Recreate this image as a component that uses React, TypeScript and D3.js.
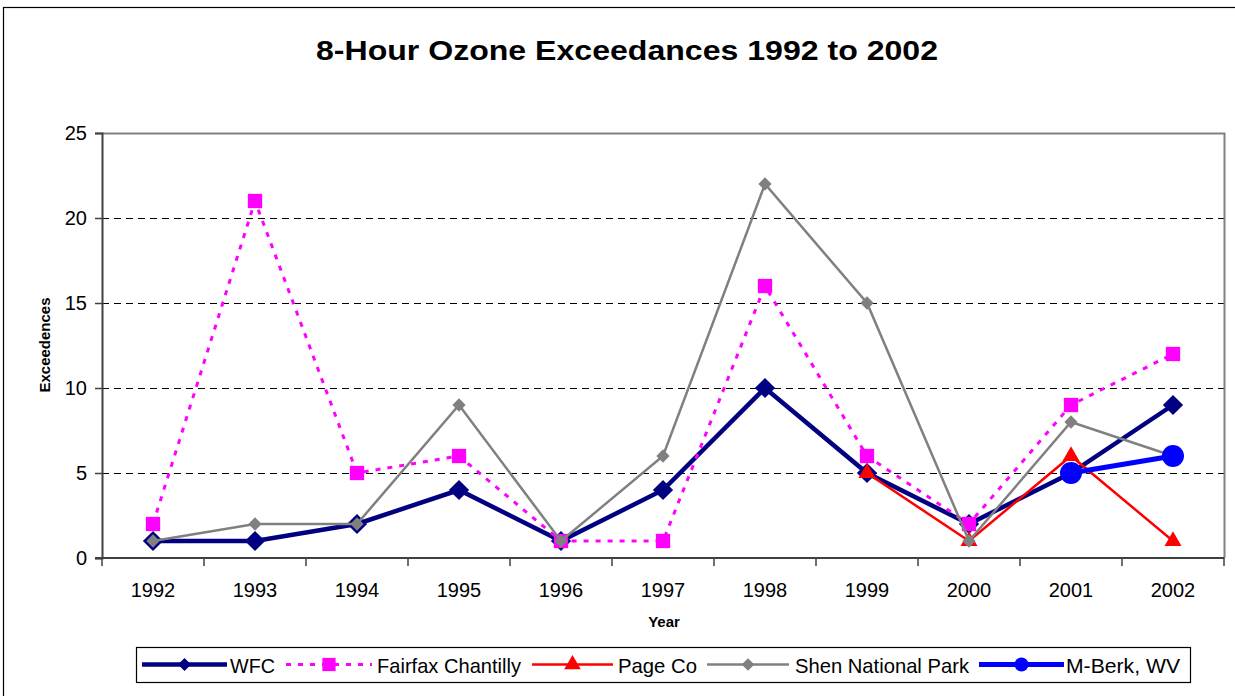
import React, { useEffect, useRef } from 'react'
import * as d3 from 'd3'

const years = ['1992', '1993', '1994', '1995', '1996', '1997', '1998', '1999', '2000', '2001', '2002']
const wfc = [1, 1, 2, 4, 1, 4, 10, 5, 2, 5, 9]
const fairfax = [2, 21, 5, 6, 1, 1, 16, 6, 2, 9, 12]
const pageCo = [null, null, null, null, null, null, null, 5, 1, 6, 1]
const shen = [1, 2, 2, 9, 1, 6, 22, 15, 1, 8, 6]
const mBerk = [null, null, null, null, null, null, null, null, null, 5, 6]
const yTicks = [0, 5, 10, 15, 20, 25]

type Series = {
    name: string
    values: (number | null)[]
    color: string
    width: number
    dash: string | null
    marker: 'diamond' | 'square' | 'triangle' | 'circle'
    size: number
    legendSize: number
    legendX: number
    legendEnd: number
    textX: number
    textLen: number
}

const series: Series[] = [
    { name: 'WFC', values: wfc, color: '#000080', width: 4.5, dash: null, marker: 'diamond', size: 205, legendSize: 85, legendX: 142, legendEnd: 227, textX: 230, textLen: 45 },
    { name: 'Fairfax Chantilly', values: fairfax, color: '#FF00FF', width: 3, dash: '5,7', marker: 'square', size: 205, legendSize: 175, legendX: 286, legendEnd: 372, textX: 377, textLen: 144 },
    { name: 'Page Co', values: pageCo, color: '#FF0000', width: 2.5, dash: null, marker: 'triangle', size: 125, legendSize: 120, legendX: 532, legendEnd: 613, textX: 618, textLen: 79 },
    { name: 'Shen National Park', values: shen, color: '#808080', width: 2.5, dash: null, marker: 'diamond', size: 88, legendSize: 80, legendX: 707, legendEnd: 789, textX: 795, textLen: 174 },
    { name: 'M-Berk, WV', values: mBerk, color: '#0000FF', width: 5, dash: null, marker: 'circle', size: 380, legendSize: 155, legendX: 979, legendEnd: 1064, textX: 1066, textLen: 114 },
]

export default function App() {
    const ref = useRef<HTMLDivElement>(null)

    useEffect(() => {
        document.body.style.margin = '0'
        const container = d3.select(ref.current)
        container.selectAll('*').remove()

        const W = 1235, H = 696
        const left = 102, right = 1224, top = 133, bottom = 558
        const font = 'Liberation Sans, Arial, sans-serif'

        const svg = container.append('svg')
            .attr('width', W)
            .attr('height', H)
            .style('display', 'block')
            .style('font-family', font)

        svg.append('rect').attr('width', W).attr('height', H).attr('fill', 'white')

        // outer chart frame
        svg.append('rect')
            .attr('x', 3.5).attr('y', 7.5)
            .attr('width', W + 10).attr('height', H + 10)
            .attr('fill', 'none').attr('stroke', '#000').attr('stroke-width', 1.2)

        svg.append('text')
            .attr('x', 316).attr('y', 60)
            .attr('textLength', 622).attr('lengthAdjust', 'spacingAndGlyphs')
            .style('font-size', '27px').style('font-weight', 'bold')
            .text('8-Hour Ozone Exceedances 1992 to 2002')

        const x = d3.scaleBand().domain(years).range([left, right])
        const y = d3.scaleLinear().domain([0, 25]).range([bottom, top])

        // gridlines
        svg.append('g').selectAll('line')
            .data(yTicks.filter(t => t > 0 && t < 25))
            .join('line')
            .attr('x1', left).attr('x2', right)
            .attr('y1', d => y(d) + 0.5).attr('y2', d => y(d) + 0.5)
            .attr('stroke', '#000').attr('stroke-width', 1)
            .attr('stroke-dasharray', '7,5')

        // plot border (top / right)
        svg.append('path')
            .attr('d', `M${left},${top + 0.5}H${right + 0.5}V${bottom}`)
            .attr('fill', 'none').attr('stroke', '#808080').attr('stroke-width', 2)

        // y axis
        const yAxis = svg.append('g')
            .attr('transform', `translate(${left},0)`)
            .call(d3.axisLeft(y).tickValues(yTicks).tickSize(7).tickPadding(8))
        yAxis.select('.domain').attr('stroke', '#404040').attr('stroke-width', 2)
        yAxis.selectAll('.tick line').attr('stroke', '#404040').attr('stroke-width', 1.5)
        yAxis.selectAll('.tick text').style('font-size', '20px').style('font-family', font).attr('fill', '#000')

        // x axis
        const xAxis = svg.append('g').attr('transform', `translate(0,${bottom})`)
        xAxis.append('line')
            .attr('x1', left - 7).attr('x2', right)
            .attr('stroke', '#404040').attr('stroke-width', 2)
        const boundaries = years.map(d => x(d) as number).concat([right])
        xAxis.selectAll('line.tk')
            .data(boundaries)
            .join('line')
            .attr('class', 'tk')
            .attr('x1', d => d).attr('x2', d => d)
            .attr('y1', 0).attr('y2', 8)
            .attr('stroke', '#404040').attr('stroke-width', 1.5)
        xAxis.selectAll('text')
            .data(years)
            .join('text')
            .attr('x', d => (x(d) as number) + x.bandwidth() / 2)
            .attr('y', 39)
            .attr('text-anchor', 'middle')
            .style('font-size', '20px')
            .text(d => d)

        svg.append('text')
            .attr('x', 664).attr('y', 627)
            .attr('text-anchor', 'middle')
            .style('font-size', '15px').style('font-weight', 'bold')
            .text('Year')

        svg.append('text')
            .attr('transform', 'translate(50,345) rotate(-90)')
            .attr('text-anchor', 'middle')
            .style('font-size', '15px').style('font-weight', 'bold')
            .text('Exceedences')

        const symbolOf = (m: Series['marker']) =>
            m === 'triangle' ? d3.symbolTriangle : m === 'circle' ? d3.symbolCircle : d3.symbolSquare
        const markerPath = (s: Series, size: number) => d3.symbol().type(symbolOf(s.marker)).size(size)()
        const markerRot = (s: Series) => s.marker === 'diamond' ? ' rotate(45)' : ''

        const cx = (i: number) => (x(years[i]) as number) + x.bandwidth() / 2

        series.forEach(s => {
            const pts = s.values.map((v, i) => ({ v, i })).filter(p => p.v !== null) as { v: number, i: number }[]
            const line = d3.line<{ v: number, i: number }>().x(p => cx(p.i)).y(p => y(p.v))
            const g = svg.append('g')
            g.append('path')
                .attr('d', line(pts))
                .attr('fill', 'none')
                .attr('stroke', s.color)
                .attr('stroke-width', s.width)
                .attr('stroke-dasharray', s.dash)
                .attr('stroke-linejoin', 'miter')
            g.selectAll('path.mk')
                .data(pts)
                .join('path')
                .attr('class', 'mk')
                .attr('d', markerPath(s, s.size))
                .attr('transform', p => `translate(${cx(p.i)},${y(p.v)})${markerRot(s)}`)
                .attr('fill', s.color)
        })

        // legend
        const lg = svg.append('g')
        lg.append('rect')
            .attr('x', 136.5).attr('y', 647.5)
            .attr('width', 1054).attr('height', 35)
            .attr('fill', 'white').attr('stroke', '#000').attr('stroke-width', 1.2)
        series.forEach(s => {
            const ly = 664.5
            lg.append('line')
                .attr('x1', s.legendX).attr('x2', s.legendEnd)
                .attr('y1', ly).attr('y2', ly)
                .attr('stroke', s.color).attr('stroke-width', s.width)
                .attr('stroke-dasharray', s.dash)
            lg.append('path')
                .attr('d', markerPath(s, s.legendSize))
                .attr('transform', `translate(${(s.legendX + s.legendEnd) / 2},${ly})${markerRot(s)}`)
                .attr('fill', s.color)
            lg.append('text')
                .attr('x', s.textX).attr('y', 673)
                .attr('textLength', s.textLen).attr('lengthAdjust', 'spacingAndGlyphs')
                .style('font-size', '21px')
                .text(s.name)
        })
    }, [])

    return <div ref={ref} />
}
